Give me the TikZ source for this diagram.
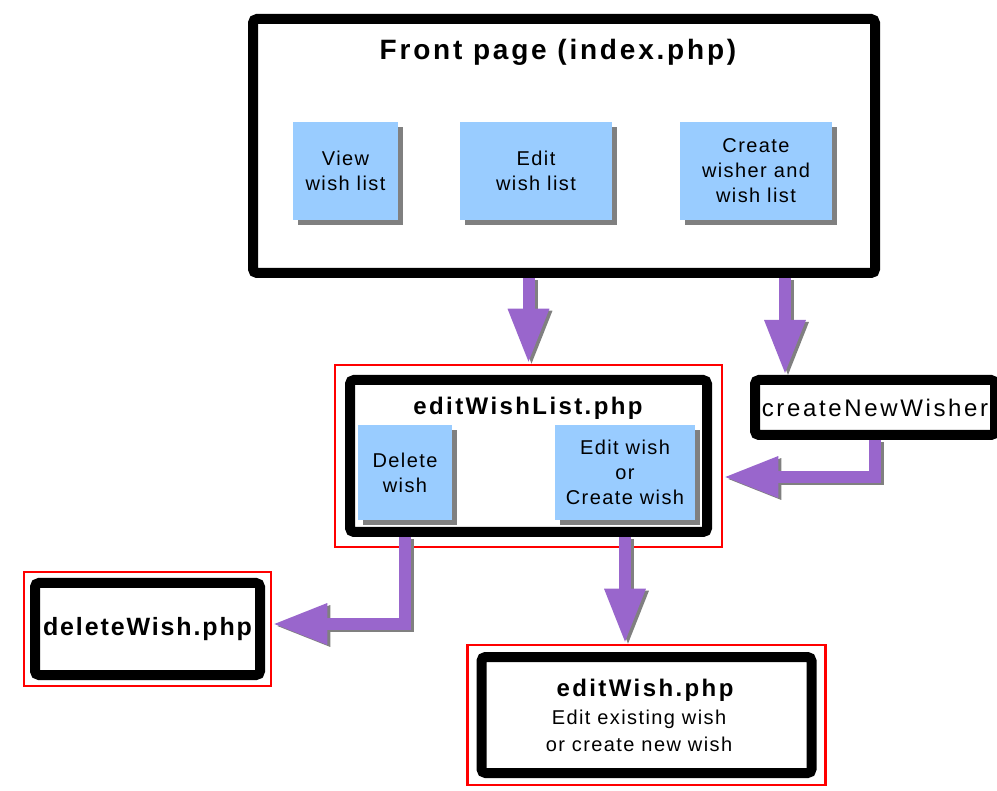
\documentclass[tikz,border=0pt]{standalone}
\usepackage{fontspec}
\setmainfont{Liberation Sans}[LetterSpace=7]
\usepackage{tikz}
\usetikzlibrary{arrows.meta}
\usetikzlibrary{shadows}
\usetikzlibrary{fit}
\usetikzlibrary{calc}
\usetikzlibrary{positioning}

\definecolor{PageBlue}{RGB}{153,204,255}
\definecolor{FlowPurple}{RGB}{153,102,204}
\definecolor{ShadowGray}{RGB}{128,128,128}

% bold page names are set a bit wider: size, letter spacing
\newcommand{\PageNameFont}[2]{\fontsize{#1}{#1}\selectfont\bfseries\addfontfeatures{LetterSpace=#2}}

\tikzset{
	pagebox/.style={draw=black, line width=10pt, rounded corners=4pt, fill=white, inner sep=0pt,
		drop shadow={shadow xshift=4pt, shadow yshift=-4pt, fill=ShadowGray!60, opacity=1}},
	taskbox/.style={fill=PageBlue, align=center, inner sep=0pt, font=\fontsize{20}{25}\selectfont,
		drop shadow={shadow xshift=5pt, shadow yshift=-5pt, fill=ShadowGray, opacity=1}},
	redframe/.style={draw=red, line width=2.5pt, inner sep=10pt},
	flowarrow/.style={draw=FlowPurple, line width=12pt, -{Triangle[length=55pt,width=38pt]}},
	arrowshadow/.style={flowarrow, draw=ShadowGray, transform canvas={xshift=3pt, yshift=-2pt}}
}

% purple arrow with its grey shadow underneath
\newcommand{\FlowArrow}[1]{
	\draw[arrowshadow] #1;
	\draw[flowarrow] #1;
}

\begin{document}
\begin{tikzpicture}[x=1pt, y=-1pt]
	\useasboundingbox (0,0) rectangle (997,791);
	%%%%%%%%%%%%%%%%%%%%%%%%%%%%%%%%%%%%%%%%%%%%%%%%%%%%%%%%%%
	% front page
	\node[pagebox, minimum width=622pt, minimum height=254pt] (front) at (564,146) {};
	\node[font=\PageNameFont{28}{10}] (fronttitle) at (558,52) {Front page (index.php)};
	\node[taskbox, minimum width=105pt, minimum height=98pt] (view) at (345.5,171) {View\\wish list};
	\node[taskbox, minimum width=152pt, minimum height=98pt] (editlist) at (536,171) {Edit\\wish list};
	\node[taskbox, minimum width=152pt, minimum height=98pt] (create) at (756,171) {Create\\wisher and\\wish list};
	%%%%%%%%%%%%%%%%%%%%%%%%%%%%%%%%%%%%%%%%%%%%%%%%%%%%%%%%%%
	% editWishList.php
	\node[pagebox, minimum width=357pt, minimum height=152pt] (ewl) at (528.5,456) {};
	\node[font=\PageNameFont{24}{10}] (ewltitle) at (528,408) {editWishList.php};
	\node[taskbox, minimum width=94pt, minimum height=95pt] (delw) at (405,472.5) {Delete\\wish};
	\node[taskbox, minimum width=140pt, minimum height=95pt] (editw) at (625,472.5) {Edit wish\\or\\Create wish};
	\node[redframe, fit=(ewl)] (ewlframe) {};
	%%%%%%%%%%%%%%%%%%%%%%%%%%%%%%%%%%%%%%%%%%%%%%%%%%%%%%%%%%
	% createNewWisher
	\node[pagebox, minimum width=240pt, minimum height=55pt, font=\fontsize{24}{28}\selectfont\addfontfeatures{LetterSpace=11}] (cnw) at (875,407.5) {createNewWisher};
	%%%%%%%%%%%%%%%%%%%%%%%%%%%%%%%%%%%%%%%%%%%%%%%%%%%%%%%%%%
	% deleteWish.php
	\node[pagebox, minimum width=225pt, minimum height=92pt, font=\PageNameFont{25}{7.5}] (delpage) at (147.5,629) {deleteWish.php};
	\node[redframe, inner sep=6pt, fit=(delpage)] (delframe) {};
	%%%%%%%%%%%%%%%%%%%%%%%%%%%%%%%%%%%%%%%%%%%%%%%%%%%%%%%%%%
	% editWish.php
	\node[pagebox, minimum width=330pt, minimum height=116pt, align=center] (ewpage) at (646.5,715) {};
	\node[font=\PageNameFont{24}{10}] (ewtitle) at (645,690) {editWish.php};
	\node[font=\fontsize{20}{27}\selectfont, align=center, below=2pt of ewtitle.south, xshift=-6pt] (ewtext) {Edit existing wish\\or create new wish};
	\node[redframe, inner xsep=9pt, inner ysep=7pt, fit=(ewpage)] (ewframe) {};
	%%%%%%%%%%%%%%%%%%%%%%%%%%%%%%%%%%%%%%%%%%%%%%%%%%%%%%%%%%
	% arrows
	\coordinate (cnwin) at ([xshift=-90pt]cnw.north);
	\FlowArrow{(front.south -| ewlframe.north) -- (ewlframe.north)}
	\FlowArrow{(front.south -| cnwin) -- (cnwin)}
	\FlowArrow{(cnw.south) |- ([yshift=-21pt]ewlframe.east)}
	\FlowArrow{(ewl.south -| delw.south) |- ([yshift=5pt]delframe.east)}
	\FlowArrow{(ewl.south -| editw.south) -- (ewframe.north -| editw.south)}
	
\end{tikzpicture}
\end{document}
